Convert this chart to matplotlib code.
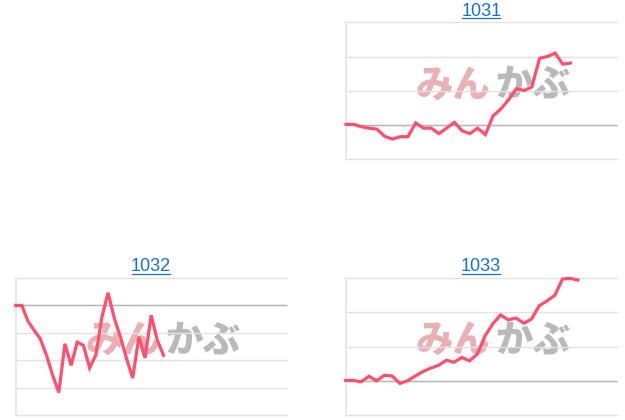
import matplotlib
matplotlib.use("Agg")
import matplotlib.pyplot as plt
from matplotlib.lines import Line2D
from matplotlib.transforms import IdentityTransform

plt.rcParams['font.family'] = ['Liberation Sans', 'Noto Sans CJK JP', 'DejaVu Sans']

# data (units = gridline steps)
codes = ["1031", "1032", "1033"]
vals_1031 = [0.02, 0.02, -0.05, -0.09, -0.12, -0.33, -0.41, -0.34, -0.34, 0.06,
             -0.09, -0.09, -0.25, -0.09, 0.08, -0.17, -0.25, -0.09, -0.28, 0.27,
             0.47, 0.74, 1.06, 1.01, 1.11, 1.95, 2.0, 2.1, 1.78, 1.81]
vals_1032 = [0.0, 0.0, -0.58, -0.91, -1.22, -1.82, -2.55, -3.18, -1.40, -2.19,
             -1.34, -1.46, -2.28, -1.82, -0.43, 0.46, -0.46, -1.15, -1.94, -2.65,
             -1.15, -1.92, -0.36, -1.28, -1.82]
vals_1033 = [0.01, 0.01, -0.03, 0.13, 0.0, 0.16, 0.14, -0.08, 0.0, 0.14,
             0.27, 0.37, 0.45, 0.60, 0.54, 0.68, 0.58, 0.78, 1.31, 1.66,
             1.92, 1.78, 1.83, 1.68, 1.80, 2.19, 2.33, 2.49, 2.97, 2.99, 2.94]
x_span = [35, 44, 35]
y_range = [(-1, 3), (-4, 1), (-1, 3)]

LINE = '#ff4f6d'
TITLE = '#1a6fd6'

fig = plt.figure(figsize=(6.25, 4.2), dpi=100)
boxes = [(0.5536, 0.6207, 0.4336, 0.3262),
         (0.0251, 0.0119, 0.4336, 0.3262),
         (0.5531, 0.0119, 0.4336, 0.3262)]

titles = []
for code, vals, xs, yr, box in zip(codes, [vals_1031, vals_1032, vals_1033], x_span, y_range, boxes):
    ax = fig.add_axes(box)
    ax.plot(range(len(vals)), vals, color=LINE, lw=2.3, solid_joinstyle='miter',
            clip_on=False, zorder=5)
    ax.set_xlim(0, xs)
    ax.set_ylim(*yr)
    ax.set_yticks(range(yr[0], yr[1] + 1))
    ax.set_xticks([])
    ax.grid(axis='y', color='#e2e2e2', lw=1)
    for gl in ax.yaxis.get_gridlines():
        gl.set_clip_on(False)
    ax.axhline(0, color='#b4b4b4', lw=1, zorder=2)
    ax.tick_params(left=False, labelleft=False)
    for s in ['top', 'right', 'bottom']:
        ax.spines[s].set_visible(False)
    ax.spines['left'].set_color('#e8e8e8')
    ax.spines['left'].set_linewidth(1.5)

    # watermark
    ax.text(0.535, 0.54, "みん", transform=ax.transAxes, ha='right', va='center',
            fontsize=27, fontweight='heavy', color='#e9b1b5',
            family=['Noto Sans CJK JP'], zorder=1)
    ax.text(0.553, 0.54, "かぶ", transform=ax.transAxes, ha='left', va='center',
            fontsize=27, fontweight='heavy', color='#b9b9b9',
            family=['Noto Sans CJK JP'], zorder=1)

    t = ax.set_title(code, color=TITLE, fontsize=13, pad=4.7)
    titles.append(t)

# underline the titles like links
fig.canvas.draw()
renderer = fig.canvas.get_renderer()
for t in titles:
    bb = t.get_window_extent(renderer)
    fig.add_artist(Line2D([bb.x0 + 0.5, bb.x1 - 1.5], [bb.y0 + 1.5, bb.y0 + 1.5],
                          transform=IdentityTransform(), color=TITLE, lw=0.9))

fig.savefig("out.png", dpi=100)
